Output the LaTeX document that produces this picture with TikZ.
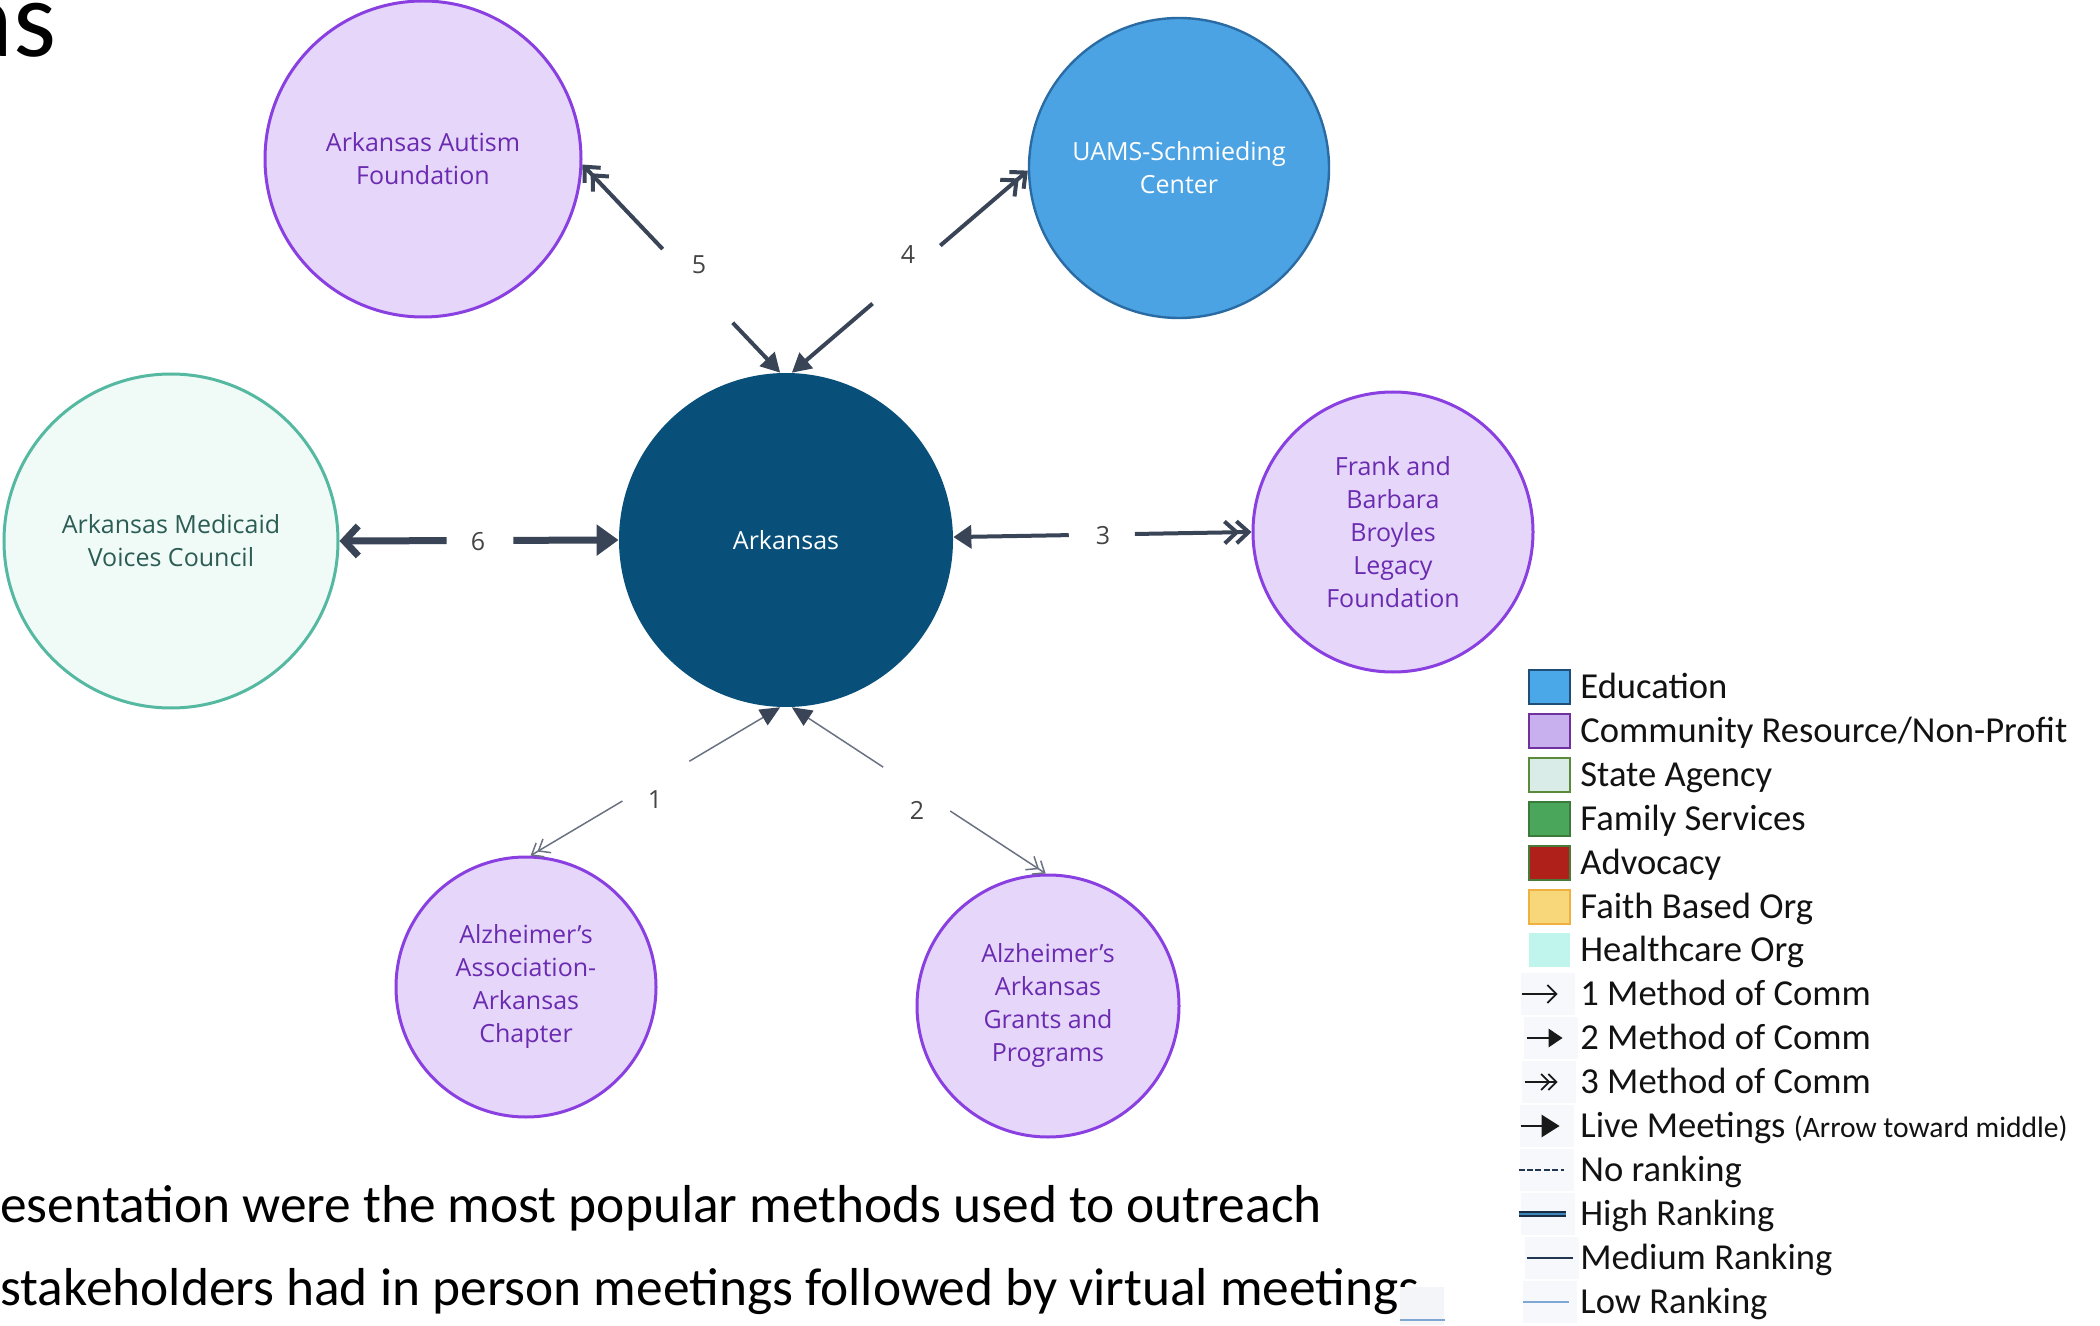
\documentclass[tikz,border=0pt]{standalone}
\usepackage{fontspec}
\setmainfont{Open Sans}
\newfontfamily\carl{Carlito}
\usetikzlibrary{arrows.meta,calc}

\definecolor{purpB}{HTML}{8A3FE0}
\definecolor{purpF}{HTML}{E5D6FA}
\definecolor{purpT}{HTML}{6B2BB0}
\definecolor{eduF}{HTML}{4BA3E3}
\definecolor{eduB}{HTML}{2B6BA3}
\definecolor{medF}{HTML}{F0FBF7}
\definecolor{medB}{HTML}{55B9A2}
\definecolor{medT}{HTML}{2C5C54}
\definecolor{arkF}{HTML}{08507A}
\definecolor{conn}{HTML}{394456}
\definecolor{thinC}{HTML}{6A7282}
\definecolor{lbl}{HTML}{444444}
\definecolor{swEduF}{HTML}{4AA8E8}
\definecolor{swEduB}{HTML}{1F4E79}
\definecolor{swComF}{HTML}{C8B0EE}
\definecolor{swComB}{HTML}{7030A0}
\definecolor{swStaF}{HTML}{D9ECE8}
\definecolor{swStaB}{HTML}{5A8A3A}
\definecolor{swFamF}{HTML}{4AA65A}
\definecolor{swFamB}{HTML}{3A7A3A}
\definecolor{swAdvF}{HTML}{B0201A}
\definecolor{swAdvB}{HTML}{4A7A3A}
\definecolor{swFaiF}{HTML}{F8D77A}
\definecolor{swFaiB}{HTML}{F0B040}
\definecolor{swHeaF}{HTML}{C0F5EE}
\definecolor{iconBg}{HTML}{F7F8FB}
\definecolor{navyL}{HTML}{1F3550}
\definecolor{lowB}{HTML}{7FA7D3}
\definecolor{coverG}{HTML}{F3F5F9}

\tikzset{
  dblbarb/.tip={Straight Barb[length=6pt,width=11pt,sep=-2.5pt] Straight Barb[length=6pt,width=11pt]},
  dblbarbthin/.tip={Straight Barb[length=5pt,width=8pt,sep=-2pt] Straight Barb[length=5pt,width=8pt]},
  dblbarbleg/.tip={Straight Barb[length=4pt,width=8pt,sep=-1.5pt] Straight Barb[length=4pt,width=8pt]},
}

\begin{document}
\begin{tikzpicture}[x=0.5pt,y=-0.5pt,
  org/.style={circle, inner sep=0pt, align=center, font=\fontsize{12.5}{16.5}\selectfont},
  commorg/.style={org, draw=purpB, fill=purpF, text=purpT, line width=1.5pt},
  lab/.style={font=\fontsize{12.5}{15}\selectfont, text=lbl, inner sep=0pt},
  heavy/.style={draw=conn, line width=2pt},
  thick6/.style={draw=conn, line width=3.5pt},
  thinline/.style={draw=thinC, line width=0.75pt},
  swatch/.style={draw, line width=1pt, minimum width=20.5pt, minimum height=17pt, inner sep=0pt},
  legtext/.style={anchor=base west, inner sep=0pt, font=\carl\fontsize{18.3}{20}\selectfont, text=black!93},
  iconbg/.style={fill=iconBg, draw=none, minimum width=27pt, minimum height=21pt, inner sep=0pt},
  bottomtext/.style={anchor=base west, inner sep=0pt, font=\carl\fontsize{26.7}{30}\selectfont, text=black},
]
\useasboundingbox (0,0) rectangle (2100,1326);
\clip (0,0) rectangle (2100,1326);

% title fragment
\node[anchor=base east, inner sep=0pt, font=\carl\fontsize{55}{55}\selectfont] (title) at (57,57) {as};

% organisations
\node[commorg, minimum size=158pt] (aut) at (423,159) {Arkansas Autism\\Foundation};
\node[org, draw=eduB, fill=eduF, text=white, line width=1.2pt, minimum size=150pt] (uams) at (1179,168) {UAMS-Schmieding\\Center};
\node[org, draw=medB, fill=medF, text=medT, line width=1.5pt, minimum size=167pt] (med) at (171,541) {Arkansas Medicaid\\Voices Council};
\node[org, fill=arkF, text=white, minimum size=167pt] (ark) at (786,540) {Arkansas};
\node[commorg, minimum size=140pt] (frank) at (1393,532) {Frank and\\Barbara\\Broyles\\Legacy\\Foundation};
\node[commorg, minimum size=130pt] (alza) at (526,987) {Alzheimer’s\\Association-\\Arkansas\\Chapter};
\node[commorg, minimum size=131pt] (alzb) at (1048,1006) {Alzheimer’s\\Arkansas\\Grants and\\Programs};

% edge 5
\draw[heavy, -{Triangle[length=9.5pt,width=10pt]}] ($(ark.92)!0.24!(aut.-2)$) -- (ark.92);
\draw[heavy, -{dblbarb}] ($(ark.92)!0.594!(aut.-2)$) -- (aut.-2);
\node[lab] (l5) at (699,265) {5};

% edge 4
\draw[heavy, -{Triangle[length=9.5pt,width=10pt]}] ($(ark.88)!0.342!(uams.181)$) -- (ark.88);
\draw[heavy, -{dblbarb}] ($(ark.88)!0.629!(uams.181)$) -- (uams.181);
\node[lab] (l4) at (908,255) {4};

% edge 6
\draw[thick6, -{Triangle[length=11pt,width=15pt]}] ($(ark.180)!0.377!(med.0)$) -- (ark.180);
\draw[thick6, -{Straight Barb[length=7pt,width=15pt]}] ($(ark.180)!0.616!(med.0)$) -- (med.0);
\node[lab] (l6) at (478,542) {6};

% edge 3
\draw[heavy, -{Triangle[length=9pt,width=11.5pt]}] ($(ark.1)!0.387!(frank.180)$) -- (ark.1);
\draw[heavy, -{dblbarb}] ($(ark.1)!0.609!(frank.180)$) -- (frank.180);
\node[lab] (l3) at (1103,536) {3};

% edge 1
\draw[thinline, -{Triangle[length=10pt,width=9pt,fill=conn,color=conn]}] ($(ark.-92)!0.364!(alza.88)$) -- (ark.-92);
\draw[thinline, -{dblbarbthin}] ($(ark.-92)!0.632!(alza.88)$) -- (alza.88);
\node[lab] (l1) at (655,800) {1};

% edge 2
\draw[thinline, -{Triangle[length=10pt,width=9pt,fill=conn,color=conn]}] ($(ark.-88)!0.36!(alzb.91)$) -- (ark.-88);
\draw[thinline, -{dblbarbthin}] ($(ark.-88)!0.624!(alzb.91)$) -- (alzb.91);
\node[lab] (l2) at (917,810) {2};

% legend swatches
\node[swatch, fill=swEduF, draw=swEduB] (s0) at (1549.5,687) {};
\node[swatch, fill=swComF, draw=swComB] (s1) at (1549.5,731) {};
\node[swatch, fill=swStaF, draw=swStaB] (s2) at (1549.5,775) {};
\node[swatch, fill=swFamF, draw=swFamB] (s3) at (1549.5,819) {};
\node[swatch, fill=swAdvF, draw=swAdvB] (s4) at (1549.5,863) {};
\node[swatch, fill=swFaiF, draw=swFaiB] (s5) at (1549.5,907) {};
\node[swatch, fill=swHeaF, draw=none] (s6) at (1549.5,950) {};

% legend icon backgrounds
\node[iconbg] (b7) at (1548,994) {};
\node[iconbg] (b8) at (1551,1038) {};
\node[iconbg] (b9) at (1549,1082) {};
\node[iconbg] (b10) at (1547,1126) {};
\node[iconbg] (b11) at (1547,1170) {};
\node[iconbg] (b12) at (1548,1214) {};
\node[iconbg] (b13) at (1552,1258) {};
\node[iconbg] (b14) at (1550,1302) {};

% legend icons
\draw[line width=0.9pt, black!90, -{Straight Barb[length=4.5pt,width=9pt]}] (b7.west) ++(1,0) -- ++(36,0);
\draw[line width=1.4pt, black!90, -{Triangle[length=7pt,width=9pt]}] (b8.west) ++(3,0) -- ++(36,0);
\draw[line width=0.9pt, black!90, -{dblbarbleg}] (b9.west) ++(3,0) -- ++(33,0);
\draw[line width=1.4pt, black!90, -{Triangle[length=9pt,width=11pt]}] (b10.west) ++(1,0) -- ++(39,0);
\draw[line width=1.3pt, navyL, dash pattern=on 3pt off 1.2pt] (b11.west) ++(-1,0) -- ++(45,0);
\draw[line width=3pt, navyL!85!black] (b12.west) ++(-2,0) -- ++(47,0);
\draw[line width=0.6pt, swEduF!70!navyL] (b12.west) ++(-2,0) -- ++(47,0);
\draw[line width=1.4pt, navyL] (b13.west) ++(2,0) -- ++(46,0);
\draw[line width=0.6pt, lowB] (b14.west) ++(0,0) -- ++(46,0);

% legend texts
\node[legtext] (t0) at (1580,698) {Education};
\node[legtext] (t1) at (1580,742) {Community Resource/Non-Profit};
\node[legtext] (t2) at (1580,786) {State Agency};
\node[legtext] (t3) at (1580,830) {Family Services};
\node[legtext] (t4) at (1580,874) {Advocacy};
\node[legtext] (t5) at (1580,918) {Faith Based Org};
\node[legtext] (t6) at (1580,961) {Healthcare Org};
\node[legtext] (t7) at (1580,1005) {1 Method of Comm};
\node[legtext] (t8) at (1580,1049) {2 Method of Comm};
\node[legtext] (t9) at (1580,1093) {3 Method of Comm};
\node[legtext] (t10) at (1580,1137) {Live Meetings {\fontsize{14.8}{16}\selectfont (Arrow toward middle)}};
\node[legtext] (t11) at (1580,1181) {No ranking};
\node[legtext] (t12) at (1580,1225) {High Ranking};
\node[legtext] (t13) at (1580,1269) {Medium Ranking};
\node[legtext] (t14) at (1580,1313) {Low Ranking};

% bottom text
\node[bottomtext] (bt1) at (0,1222) {esentation were the most popular methods used to outreach};
\node[bottomtext] (bt2) at (0,1305) {stakeholders had in person meetings followed by virtual meetings};
\node[fill=coverG, minimum width=22pt, minimum height=19pt, inner sep=0pt, anchor=north west] (cover) at (1400,1287) {};
\draw[line width=0.8pt, lowB] ([yshift=3pt]cover.south west) -- ([yshift=3pt]cover.south east);
\end{tikzpicture}
\end{document}
